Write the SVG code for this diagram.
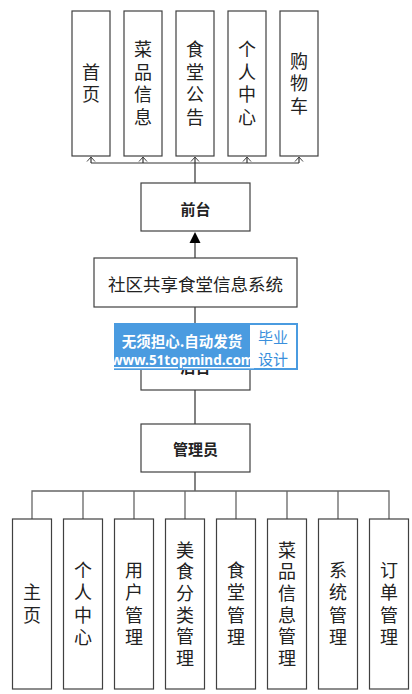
<svg xmlns="http://www.w3.org/2000/svg" width="412" height="694" viewBox="0 0 412 694">
<defs>
<style>
.box{fill:#fff;stroke:#404040;stroke-width:1.2}
.t{font-family:"Noto Sans CJK SC","Noto Sans",sans-serif;fill:#222;text-anchor:middle;dominant-baseline:central}
.v{font-family:"Noto Sans CJK SC",sans-serif;fill:#222;font-size:18px;writing-mode:vertical-rl;text-anchor:middle;letter-spacing:4.5px}
.vb{font-family:"Noto Sans CJK SC",sans-serif;fill:#222;font-size:18px;writing-mode:vertical-rl;text-anchor:middle;letter-spacing:3.6px}
.b{font-size:15px;font-weight:bold}
.ln{fill:none;stroke:#333;stroke-width:1.2}
.ah{fill:none;stroke:#444;stroke-width:1}
.lg{fill:none;stroke:#666;stroke-width:1.3}
.wm{font-family:"Noto Sans CJK SC",sans-serif;text-anchor:middle;dominant-baseline:central}
</style>
</defs>
<rect width="412" height="694" fill="#fff"/>
<g id="connectors">
<path class="ln" d="M91,163 H299 M195,183 V163 M91,163 V157 M143,163 V157 M195,163 V157 M247,163 V157 M299,163 V157"/>
<path class="ah" d="M87,161.5 L91,157 L95,161.5 M139,161.5 L143,157 L147,161.5 M191,161.5 L195,157 L199,161.5 M243,161.5 L247,157 L251,161.5 M295,161.5 L299,157 L303,161.5"/>
<path class="ln" d="M195,258 V242"/>
<path d="M189.5,243 L195,232 L200.5,243 Z" fill="#000"/>
<path class="ln" d="M195,307 V342 M195,390 V424 M195,472 V491"/>
<path class="lg" d="M32,519 V491 H389 V519 M83,491 V519 M134,491 V519 M185,491 V519 M236,491 V519 M287,491 V519 M338,491 V519"/>
</g>
<g id="n-shouye"><rect class="box" x="72" y="11" width="38" height="145"/><text class="v" x="91" y="85.5">首页</text></g>
<g id="n-caipin"><rect class="box" x="124" y="11" width="38" height="145"/><text class="v" x="143" y="85.5">菜品信息</text></g>
<g id="n-gonggao"><rect class="box" x="176" y="11" width="38" height="145"/><text class="v" x="195" y="85.5">食堂公告</text></g>
<g id="n-geren"><rect class="box" x="228" y="11" width="38" height="145"/><text class="v" x="247" y="85.5">个人中心</text></g>
<g id="n-gouwu"><rect class="box" x="280" y="11" width="38" height="145"/><text class="v" x="299" y="85.5">购物车</text></g>
<g id="n-qiantai"><rect class="box" x="141" y="183" width="109" height="48"/><text class="t b" x="195.5" y="208">前台</text></g>
<g id="n-system"><rect class="box" x="94" y="258" width="203" height="49"/><text class="t" style="font-size:17.5px" x="195.5" y="283">社区共享食堂信息系统</text></g>
<g id="n-houtai"><rect class="box" x="141" y="342" width="109" height="48"/><text class="t b" x="195.5" y="366">后台</text></g>
<g id="n-admin"><rect class="box" x="141" y="424" width="109" height="48"/><text class="t b" x="195.5" y="448">管理员</text></g>
<g id="n-b1"><rect class="box" x="12.5" y="519" width="39" height="170"/><text class="v" x="32" y="606">主页</text></g>
<g id="n-b2"><rect class="box" x="63.5" y="519" width="39" height="170"/><text class="v" x="83" y="606">个人中心</text></g>
<g id="n-b3"><rect class="box" x="114.5" y="519" width="39" height="170"/><text class="v" x="134" y="606">用户管理</text></g>
<g id="n-b4"><rect class="box" x="165.5" y="519" width="39" height="170"/><text class="vb" x="185" y="605.8">美食分类管理</text></g>
<g id="n-b5"><rect class="box" x="216.5" y="519" width="39" height="170"/><text class="v" x="236" y="606">食堂管理</text></g>
<g id="n-b6"><rect class="box" x="267.5" y="519" width="39" height="170"/><text class="vb" x="287" y="605.8">菜品信息管理</text></g>
<g id="n-b7"><rect class="box" x="318.5" y="519" width="39" height="170"/><text class="v" x="338" y="606">系统管理</text></g>
<g id="n-b8"><rect class="box" x="369.5" y="519" width="39" height="170"/><text class="v" x="389" y="606">订单管理</text></g>
<g id="watermark">
<rect x="114" y="323" width="184" height="47" fill="#4a9be0"/>
<rect x="250" y="325" width="46" height="43" fill="#fff"/>
<text class="wm" x="182" y="340" style="font-size:14.5px;font-weight:bold;fill:#fff">无须担心.自动发货</text>
<text class="wm" x="182.5" y="360" style="font-family:'Noto Sans','Noto Sans CJK SC',sans-serif;font-size:13.5px;font-weight:bold;fill:#fff;text-decoration:underline">www.51topmind.com</text>
<text class="wm" x="273" y="336" style="font-size:15px;fill:#3a8fdc">毕业</text>
<text class="wm" x="273" y="358" style="font-size:15px;fill:#3a8fdc">设计</text>
</g>
</svg>
